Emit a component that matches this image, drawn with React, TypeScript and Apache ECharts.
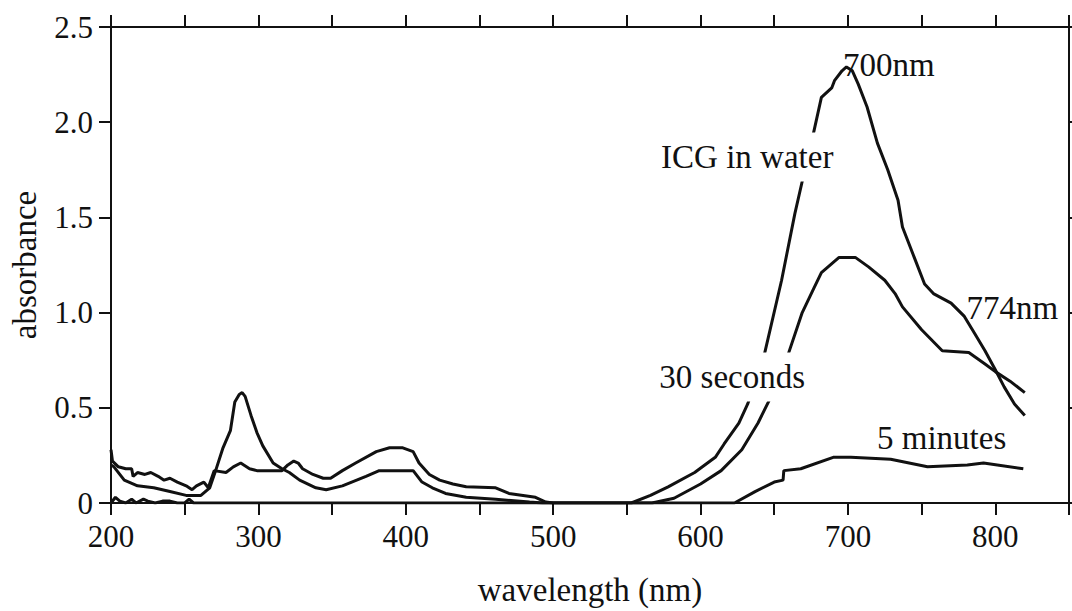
import React, { useEffect, useRef } from "react";
import * as echarts from "echarts";

// ICG in water
const waterNm = [200, 202, 209, 218, 229, 240, 251, 261, 267, 271, 276, 281, 284, 287, 289, 291, 295, 299, 303, 310, 316, 321, 328, 339, 346, 357, 373, 382, 405, 411, 418, 427, 441, 461, 484, 493, 553, 566, 578, 596, 610, 616, 626, 632, 643, 655, 664, 669, 676, 682, 689, 691, 696, 699, 703, 707, 713, 720, 727, 734, 737, 745, 752, 758, 770, 779, 786, 793, 800, 806, 813, 820];
const waterAbs = [0.2, 0.19, 0.12, 0.09, 0.08, 0.06, 0.04, 0.04, 0.08, 0.17, 0.29, 0.38, 0.53, 0.57, 0.58, 0.56, 0.46, 0.37, 0.3, 0.21, 0.18, 0.16, 0.12, 0.08, 0.07, 0.09, 0.14, 0.17, 0.17, 0.11, 0.08, 0.05, 0.03, 0.02, 0.005, 0, 0, 0.04, 0.085, 0.16, 0.24, 0.31, 0.42, 0.52, 0.77, 1.17, 1.52, 1.69, 1.92, 2.13, 2.18, 2.22, 2.27, 2.29, 2.27, 2.2, 2.08, 1.89, 1.75, 1.59, 1.45, 1.29, 1.15, 1.1, 1.05, 0.98, 0.89, 0.8, 0.7, 0.61, 0.52, 0.46];

// 30 seconds
const sec30Nm = [200, 201, 205, 210, 214, 215, 218, 223, 227, 232, 236, 240, 245, 251, 255, 258, 263, 266, 270, 278, 283, 288, 294, 299, 316, 320, 324, 327, 330, 337, 344, 349, 357, 366, 380, 389, 398, 405, 409, 416, 423, 432, 441, 461, 470, 488, 495, 500, 567, 582, 600, 614, 628, 639, 646, 659, 669, 677, 682, 694, 705, 714, 725, 732, 737, 750, 764, 782, 793, 800, 810, 820];
const sec30Abs = [0.28, 0.22, 0.19, 0.18, 0.18, 0.14, 0.16, 0.15, 0.16, 0.14, 0.12, 0.13, 0.11, 0.09, 0.07, 0.09, 0.11, 0.08, 0.17, 0.16, 0.19, 0.21, 0.18, 0.17, 0.17, 0.2, 0.22, 0.21, 0.18, 0.15, 0.13, 0.13, 0.17, 0.21, 0.27, 0.29, 0.29, 0.27, 0.21, 0.15, 0.12, 0.1, 0.085, 0.08, 0.05, 0.03, 0.005, 0, 0, 0.025, 0.1, 0.17, 0.28, 0.42, 0.53, 0.77, 1.0, 1.13, 1.21, 1.29, 1.29, 1.24, 1.17, 1.1, 1.03, 0.91, 0.8, 0.79, 0.73, 0.69, 0.64, 0.58];

// 5 minutes
const min5Nm = [200, 203, 206, 210, 214, 217, 222, 225, 230, 235, 240, 245, 250, 253, 256, 623, 637, 650, 656, 656.5, 668, 690, 702, 729, 754, 781, 792, 819];
const min5Abs = [0, 0.03, 0.01, 0, 0.02, 0, 0.02, 0.01, 0, 0.01, 0.01, 0, 0, 0.02, 0, 0, 0.06, 0.11, 0.12, 0.17, 0.18, 0.24, 0.24, 0.23, 0.19, 0.2, 0.21, 0.18];

// Annotations (text, wavelength, absorbance, background)
const noteTexts = ["ICG in water", "700nm", "774nm", "30 seconds", "5 minutes"];
const noteNm = [631.7, 727.7, 811.6, 621.5, 763.6];
const noteAbs = [1.817, 2.3, 1.024, 0.662, 0.341];
const noteMask = [true, false, false, true, false];

const pairs = (xs: number[], ys: number[]) => xs.map((x, i) => [x, ys[i]]);

const FONT = '"Liberation Serif", "DejaVu Serif", serif';
const INK = "#111";

export default function App() {
  const ref = useRef<HTMLDivElement>(null);
  useEffect(() => {
    if (!ref.current) return;
    const chart = echarts.init(ref.current, undefined, { renderer: "svg" });
    const lineStyle = { color: INK, width: 3 };
    const axisLine = { show: true, onZero: false, lineStyle: { color: INK, width: 2 } };
    const axisTick = { show: true, inside: false, length: 12, lineStyle: { color: INK, width: 2 } };
    const mkSeries = (name: string, data: number[][]) => ({
      name,
      type: "line",
      data,
      showSymbol: false,
      symbol: "none",
      lineStyle,
      xAxisIndex: 0,
      yAxisIndex: 0,
      z: 3,
    });
    chart.setOption({
      animation: false,
      backgroundColor: "#fff",
      grid: { left: 107, right: 3, top: 27, bottom: 108 },
      xAxis: [
        {
          type: "value",
          min: 200,
          max: 850,
          interval: 50,
          position: "bottom",
          axisLine,
          axisTick,
          splitLine: { show: false },
          axisLabel: {
            margin: 18,
            color: INK,
            fontFamily: FONT,
            fontSize: 31,
            formatter: (v: number) => (v % 100 === 0 && v < 850 ? String(v) : ""),
          },
          name: "wavelength (nm)",
          nameLocation: "middle",
          nameGap: 70,
          nameTextStyle: { color: INK, fontFamily: FONT, fontSize: 33 },
        },
        {
          type: "value",
          min: 200,
          max: 850,
          interval: 50,
          position: "top",
          axisLine,
          axisTick,
          splitLine: { show: false },
          axisLabel: { show: false },
        },
      ],
      yAxis: [
        {
          type: "value",
          min: 0,
          max: 2.5,
          interval: 0.5,
          position: "left",
          axisLine,
          axisTick,
          splitLine: { show: false },
          axisLabel: {
            margin: 18,
            color: INK,
            fontFamily: FONT,
            fontSize: 31,
            formatter: (v: number) => (v === 0 ? "0" : v.toFixed(1)),
          },
          name: "absorbance",
          nameLocation: "middle",
          nameRotate: 90,
          nameGap: 70,
          nameTextStyle: { color: INK, fontFamily: FONT, fontSize: 33 },
        },
        {
          type: "value",
          min: 0,
          max: 2.5,
          interval: 0.5,
          position: "right",
          axisLine,
          axisTick,
          splitLine: { show: false },
          axisLabel: { show: false },
        },
      ],
      series: [
        mkSeries("ICG in water", pairs(waterNm, waterAbs)),
        mkSeries("30 seconds", pairs(sec30Nm, sec30Abs)),
        mkSeries("5 minutes", pairs(min5Nm, min5Abs)),
      ],
    });
    const graphics = noteTexts.map((t, i) => {
      const p = chart.convertToPixel({ xAxisIndex: 0, yAxisIndex: 0 }, [noteNm[i], noteAbs[i]]) as number[];
      return {
        type: "text",
        x: p[0],
        y: p[1],
        z: 10,
        style: {
          text: t,
          fill: INK,
          font: `33px ${FONT}`,
          align: "center",
          verticalAlign: "middle",
          backgroundColor: noteMask[i] ? "#fff" : undefined,
          padding: noteMask[i] ? [8, 4] : 0,
        },
      };
    });
    chart.setOption({ graphic: graphics });
    return () => chart.dispose();
  }, []);
  return (
    <div
      ref={ref}
      style={{ position: "fixed", left: 0, top: 0, width: 1072, height: 611, background: "#fff" }}
    />
  );
}
